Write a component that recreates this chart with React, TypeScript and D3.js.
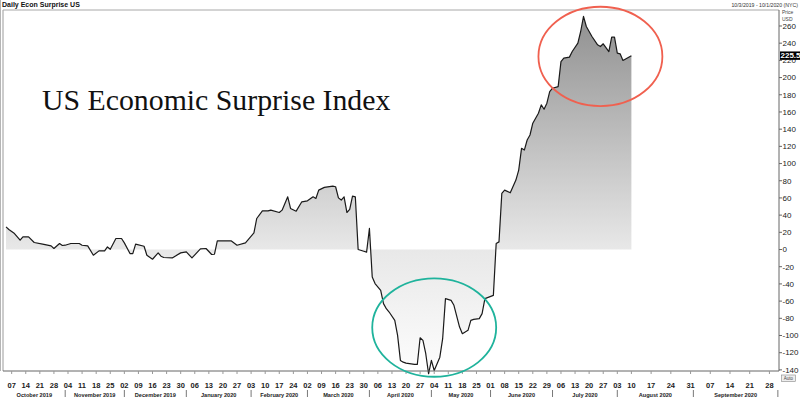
import { useEffect, useRef } from 'react';
import * as d3 from 'd3';

// daily US economic surprise index (trading days)
const surprise: [string, number][] = [
  ['2019-10-03', 26.3], ['2019-10-04', 23.3], ['2019-10-08', 18.6], ['2019-10-10', 10.8],
  ['2019-10-11', 14.7], ['2019-10-15', 14.7], ['2019-10-17', 8.2], ['2019-10-22', 6.2],
  ['2019-10-25', 4.2], ['2019-10-28', 1.2], ['2019-10-30', 7], ['2019-10-31', 4.7],
  ['2019-11-01', 5], ['2019-11-05', 7], ['2019-11-08', 7], ['2019-11-11', 5],
  ['2019-11-13', 4.2], ['2019-11-15', -6.6], ['2019-11-19', -1.6], ['2019-11-21', -1.6],
  ['2019-11-22', 3], ['2019-11-25', 0.3], ['2019-11-27', 12.8], ['2019-11-29', 12.8],
  ['2019-12-02', 7.7], ['2019-12-04', -4.7], ['2019-12-05', -4.7], ['2019-12-06', 6.2],
  ['2019-12-11', 3.8], ['2019-12-12', -6.6], ['2019-12-16', -11.3], ['2019-12-18', -3.9],
  ['2019-12-19', -7.8], ['2019-12-20', -9.3], ['2019-12-25', -9.8], ['2019-12-30', -3.9],
  ['2020-01-01', -2.8], ['2020-01-03', -9.8], ['2020-01-08', 0.7], ['2020-01-10', 1.2],
  ['2020-01-14', -5.8], ['2020-01-15', -5.5], ['2020-01-16', 10], ['2020-01-23', 10],
  ['2020-01-27', 5], ['2020-01-30', 7.7], ['2020-02-04', 19.3], ['2020-02-05', 36.1],
  ['2020-02-07', 45], ['2020-02-11', 45], ['2020-02-12', 45.8], ['2020-02-17', 43.1],
  ['2020-02-18', 45.8], ['2020-02-20', 61.3], ['2020-02-21', 47.8], ['2020-02-25', 44.6],
  ['2020-02-27', 55.5], ['2020-03-02', 56.6], ['2020-03-04', 61.3], ['2020-03-05', 59.4],
  ['2020-03-06', 69.1], ['2020-03-10', 72.3], ['2020-03-13', 73.8], ['2020-03-16', 73],
  ['2020-03-17', 60.1], ['2020-03-18', 57.5], ['2020-03-19', 61.3], ['2020-03-20', 43.1],
  ['2020-03-23', 46.6], ['2020-03-24', 62.1], ['2020-03-25', 61.3], ['2020-03-26', 0],
  ['2020-03-30', -2], ['2020-03-31', -3.1], ['2020-04-01', 24.5], ['2020-04-02', -31.9],
  ['2020-04-03', -39.6], ['2020-04-07', -47.4], ['2020-04-08', -62.9], ['2020-04-09', -68.8],
  ['2020-04-10', -72.7], ['2020-04-14', -82.4], ['2020-04-15', -99.9], ['2020-04-16', -129],
  ['2020-04-17', -131], ['2020-04-20', -132.2], ['2020-04-23', -133.7], ['2020-04-24', -133.7],
  ['2020-04-27', -102.6], ['2020-04-28', -105.7], ['2020-04-29', -121.2], ['2020-04-30', -144.5],
  ['2020-05-01', -129], ['2020-05-04', -140.7], ['2020-05-06', -125.2], ['2020-05-07', -103.7],
  ['2020-05-08', -57.1], ['2020-05-12', -59.1], ['2020-05-13', -64.9], ['2020-05-15', -90.2],
  ['2020-05-18', -97.9], ['2020-05-20', -94], ['2020-05-21', -82.4], ['2020-05-22', -81.2],
  ['2020-05-26', -80.4], ['2020-05-27', -74.6], ['2020-05-28', -57.1], ['2020-06-02', -53.3],
  ['2020-06-03', 7], ['2020-06-04', 8.9], ['2020-06-05', 65.3], ['2020-06-08', 69.1],
  ['2020-06-10', 66], ['2020-06-12', 80.8], ['2020-06-15', 92.4], ['2020-06-16', 117.7],
  ['2020-06-17', 115.7], ['2020-06-18', 127.4], ['2020-06-19', 133.2], ['2020-06-22', 146.9],
  ['2020-06-23', 152.7], ['2020-06-24', 158.5], ['2020-06-25', 168.2], ['2020-06-26', 163.2],
  ['2020-06-29', 170.2], ['2020-06-30', 183.7], ['2020-07-01', 187.6], ['2020-07-03', 189.5],
  ['2020-07-06', 218.6], ['2020-07-07', 222.6], ['2020-07-09', 223.8], ['2020-07-10', 230.3],
  ['2020-07-14', 240.1], ['2020-07-15', 253.6], ['2020-07-16', 271.1], ['2020-07-17', 259.4],
  ['2020-07-21', 247.8], ['2020-07-23', 238.1], ['2020-07-24', 236.1], ['2020-07-27', 239.3],
  ['2020-07-29', 230.3], ['2020-07-30', 247], ['2020-07-31', 247], ['2020-08-03', 228.4],
  ['2020-08-04', 227.6], ['2020-08-05', 219.9], ['2020-08-10', 225.5],
];

const rangeStart = '2019-10-03';
const rangeEnd = '2020-10-01';
const yDomain = [-141.3, 278.6];
const yTicks = [-140, -120, -100, -80, -60, -40, -20, 0, 20, 40, 60, 80, 100, 120, 140, 160, 180, 200, 220, 240, 260];
const monthStarts = [
  '2019-10-01', '2019-11-01', '2019-12-01', '2020-01-01', '2020-02-01', '2020-03-01',
  '2020-04-01', '2020-05-01', '2020-06-01', '2020-07-01', '2020-08-01', '2020-09-01', '2020-10-01',
];

// hand-drawn highlight ellipses, in date / value terms
const highlights = [
  { from: '2020-06-24', to: '2020-08-21', low: 166.9, high: 282.4, color: '#f0604f' },
  { from: '2020-04-02', to: '2020-06-03', low: -148, high: -33.5, color: '#1fb39c' },
];

const W = 800;
const H = 399;

export default function App() {
  const svgRef = useRef<SVGSVGElement>(null);

  useEffect(() => {
    if (!svgRef.current) return;
    const svg = d3.select(svgRef.current);
    svg.selectAll('*').remove();

    const font = 'Liberation Sans, Arial, sans-serif';
    const parse = d3.timeParse('%Y-%m-%d');
    const start = parse(rangeStart)!;
    const end = parse(rangeEnd)!;
    const data = surprise.map(([d, v]) => ({ date: parse(d)!, value: v }));
    const lastDate = data[data.length - 1].date;

    // trading days for history, calendar days after the last print
    const isWeekday = (d: Date) => d.getDay() !== 0 && d.getDay() !== 6;
    const tradingIndex = (d: Date) => d3.timeDay.range(start, d).filter(isWeekday).length;
    const lastIndex = tradingIndex(lastDate);
    const unitOf = (d: Date) =>
      d <= lastDate ? tradingIndex(d) : lastIndex + d3.timeDay.count(lastDate, d);

    const left = 3.5;
    const right = 779;
    const top = 10;
    const bottom = 371;

    const x = d3.scaleLinear().domain([-0.9, unitOf(end) + 0.4]).range([left, right]);
    const y = d3.scaleLinear().domain(yDomain).range([bottom, top]);
    const px = (d: Date) => x(unitOf(d));

    // Gradient fill
    const defs = svg.append('defs');
    const grad = defs.append('linearGradient')
      .attr('id', 'surpriseFill')
      .attr('gradientUnits', 'userSpaceOnUse')
      .attr('x1', 0).attr('x2', 0)
      .attr('y1', top).attr('y2', bottom);
    const zeroOff = (y(0) - top) / (bottom - top);
    grad.append('stop').attr('offset', 0).attr('stop-color', '#8e8e8e');
    grad.append('stop').attr('offset', zeroOff).attr('stop-color', '#e8e8e8');
    grad.append('stop').attr('offset', 1).attr('stop-color', '#fdfdfd');

    const area = d3.area<{ date: Date; value: number }>()
      .x((d) => px(d.date))
      .y0(y(0))
      .y1((d) => y(d.value));
    svg.append('path').datum(data).attr('d', area).attr('fill', 'url(#surpriseFill)');

    const line = d3.line<{ date: Date; value: number }>()
      .x((d) => px(d.date))
      .y((d) => y(d.value));
    svg.append('path').datum(data).attr('d', line)
      .attr('fill', 'none')
      .attr('stroke', '#1a1a1a')
      .attr('stroke-width', 1.2)
      .attr('stroke-linejoin', 'round');

    // Frame
    svg.append('line').attr('x1', 0.5).attr('x2', 0.5).attr('y1', 0).attr('y2', bottom)
      .attr('stroke', '#b5b5b5');
    svg.append('line').attr('x1', 3).attr('x2', 3).attr('y1', top).attr('y2', bottom)
      .attr('stroke', '#9a9a9a');
    svg.append('line').attr('x1', 3).attr('x2', right).attr('y1', top).attr('y2', top)
      .attr('stroke', '#a8a8a8');
    svg.append('line').attr('x1', 3).attr('x2', right).attr('y1', bottom).attr('y2', bottom)
      .attr('stroke', '#666');
    svg.append('line').attr('x1', right).attr('x2', right).attr('y1', top).attr('y2', bottom)
      .attr('stroke', '#666');

    // Y axis (right)
    yTicks.forEach((t) => {
      svg.append('line')
        .attr('x1', right).attr('x2', right + 3)
        .attr('y1', y(t)).attr('y2', y(t))
        .attr('stroke', '#666');
      svg.append('text')
        .attr('x', right + 3.5)
        .attr('y', y(t))
        .attr('dy', '0.35em')
        .attr('fill', '#222')
        .attr('font-size', '8px')
        .attr('font-family', font)
        .text(t);
    });

    svg.append('text').attr('x', right + 3).attr('y', 14)
      .attr('fill', '#444').attr('font-size', '5px').attr('font-family', font).text('Price');
    svg.append('text').attr('x', right + 3).attr('y', 20.5)
      .attr('fill', '#444').attr('font-size', '5px').attr('font-family', font).text('USD');

    // last value flag
    const last = data[data.length - 1].value;
    svg.append('rect')
      .attr('x', right + 1).attr('y', y(last) - 4.2)
      .attr('width', 22).attr('height', 8.4)
      .attr('fill', '#000');
    svg.append('text')
      .attr('x', right + 1.5).attr('y', y(last))
      .attr('dy', '0.35em')
      .attr('fill', '#fff')
      .attr('font-size', '8px')
      .attr('font-weight', 700)
      .attr('font-family', font)
      .text(d3.format('.1f')(last));

    svg.append('rect')
      .attr('x', right + 2.5).attr('y', bottom + 4)
      .attr('width', 14).attr('height', 6.5)
      .attr('fill', '#eee').attr('stroke', '#888').attr('stroke-width', 0.6);
    svg.append('text')
      .attr('x', right + 9.5).attr('y', bottom + 8.9)
      .attr('text-anchor', 'middle')
      .attr('fill', '#444').attr('font-size', '4.5px').attr('font-family', font)
      .text('Auto');

    // X axis: weekly ticks
    const mondays = d3.timeMonday.range(start, end);
    const dayFmt = d3.timeFormat('%d');
    mondays.forEach((m) => {
      svg.append('line')
        .attr('x1', px(m)).attr('x2', px(m))
        .attr('y1', bottom).attr('y2', bottom + 3)
        .attr('stroke', '#999');
      svg.append('text')
        .attr('x', px(m))
        .attr('y', 388)
        .attr('text-anchor', 'middle')
        .attr('fill', '#222')
        .attr('font-size', '7.5px')
        .attr('font-weight', 700)
        .attr('font-family', font)
        .text(dayFmt(m));
    });

    // Month labels
    const monthFmt = d3.timeFormat('%B %Y');
    const seps = monthStarts.map((s) => {
      const d = parse(s)!;
      return { date: d, x: d < start ? left : px(d) };
    });
    seps.forEach((s, i) => {
      if (i > 0) {
        svg.append('line')
          .attr('x1', s.x).attr('x2', s.x)
          .attr('y1', 390).attr('y2', 397)
          .attr('stroke', '#555').attr('stroke-width', 0.8);
      }
      if (i < seps.length - 1) {
        const x0 = Math.max(left, s.x);
        const x1 = Math.min(right, seps[i + 1].x);
        svg.append('text')
          .attr('x', (x0 + x1) / 2)
          .attr('y', 396.5)
          .attr('text-anchor', 'middle')
          .attr('fill', '#222')
          .attr('font-size', '5.6px')
          .attr('font-weight', 700)
          .attr('font-family', font)
          .text(monthFmt(s.date));
      }
    });

    // Headers
    svg.append('text')
      .attr('x', 2).attr('y', 7.3)
      .attr('fill', '#111')
      .attr('font-size', '7px')
      .attr('font-weight', 700)
      .attr('font-family', font)
      .text('Daily Econ Surprise US');
    svg.append('text')
      .attr('x', 798).attr('y', 6.5)
      .attr('text-anchor', 'end')
      .attr('fill', '#333')
      .attr('font-size', '5.2px')
      .attr('font-family', font)
      .text('10/3/2019 - 10/1/2020 (NYC)');

    svg.append('text')
      .attr('x', 42).attr('y', 110)
      .attr('fill', '#111')
      .attr('font-size', '29.8px')
      .attr('font-family', 'Liberation Serif, Times New Roman, serif')
      .text('US Economic Surprise Index');

    // Highlight ellipses
    highlights.forEach((h) => {
      const x0 = px(parse(h.from)!);
      const x1 = px(parse(h.to)!);
      const yTop = y(h.high);
      const yBot = y(h.low);
      svg.append('ellipse')
        .attr('cx', (x0 + x1) / 2)
        .attr('cy', (yTop + yBot) / 2)
        .attr('rx', (x1 - x0) / 2)
        .attr('ry', (yBot - yTop) / 2)
        .attr('fill', 'none')
        .attr('stroke', h.color)
        .attr('stroke-width', 1.8);
    });
  }, []);

  return (
    <svg
      ref={svgRef}
      width={W}
      height={H}
      style={{ position: 'absolute', left: 0, top: 0, display: 'block', background: '#fff' }}
    />
  );
}
